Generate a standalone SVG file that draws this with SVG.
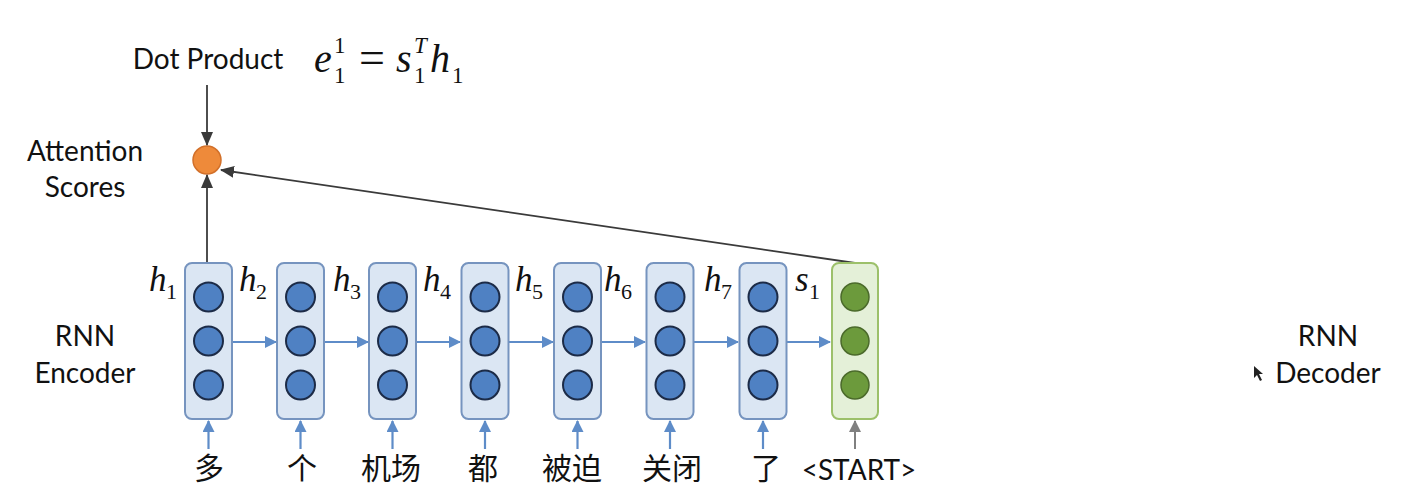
<svg xmlns="http://www.w3.org/2000/svg" width="1406" height="499" viewBox="0 0 1406 499">
<style>
.lbl{font-family:Lato,"Open Sans",sans-serif;font-size:28px;fill:#111;text-anchor:middle}
.zh{font-family:"Noto Sans CJK SC",sans-serif;font-size:30px;fill:#111;text-anchor:middle}
.mi{font-family:"Liberation Serif",serif;font-style:italic;font-size:35px;fill:#111}
.sub{font-family:"Liberation Serif",serif;font-size:22px;fill:#111}
.fm{font-family:"Liberation Serif",serif;font-style:italic;font-size:40px;fill:#111}
.fs{font-family:"Liberation Serif",serif;font-size:23px;fill:#111}
.box{fill:#dbe6f3;stroke:#7694bf;stroke-width:2}
.gbox{fill:#e4f0d8;stroke:#9cc06a;stroke-width:2}
.cell{fill:#4f81c3;stroke:#1c2b47;stroke-width:2}
.gcell{fill:#6c9a3c;stroke:#4b6a2b;stroke-width:1.5}
.blue{stroke:#5e8cc8;stroke-width:2.2;fill:none;marker-end:url(#ab)}
.gray{stroke:#808080;stroke-width:2;fill:none;marker-end:url(#ag)}
.dark{stroke:#3a3a3a;stroke-width:1.8;fill:none;marker-end:url(#ad)}
</style>
<defs>
<marker id="ab" markerUnits="userSpaceOnUse" markerWidth="12" markerHeight="12" refX="11" refY="6" orient="auto"><path d="M0,0 L12,6 L0,12 Z" fill="#5e8cc8"/></marker>
<marker id="ag" markerUnits="userSpaceOnUse" markerWidth="12" markerHeight="12" refX="11" refY="6" orient="auto"><path d="M0,0 L12,6 L0,12 Z" fill="#808080"/></marker>
<marker id="ad" markerUnits="userSpaceOnUse" markerWidth="14" markerHeight="12" refX="13" refY="6" orient="auto"><path d="M0,0 L14,6 L0,12 Z" fill="#3a3a3a"/></marker>
</defs>
<rect width="1406" height="499" fill="#ffffff"/>

<g id="labels">
<text class="lbl" x="208" y="69">Dot Product</text>
<text class="lbl" x="85" y="161">Attention</text>
<text class="lbl" x="85" y="197">Scores</text>
<text class="lbl" x="85" y="346">RNN</text>
<text class="lbl" x="85" y="383">Encoder</text>
<text class="lbl" x="1328" y="346">RNN</text>
<text class="lbl" x="1328" y="383">Decoder</text>
</g>

<g id="formula">
<text class="fm" x="314" y="72">e</text>
<text class="fs" x="334" y="53">1</text>
<text class="fs" x="334" y="83">1</text>
<text class="fs" x="359" y="73" style="font-size:46px">=</text>
<text class="fm" x="396" y="72">s</text>
<text class="fs" x="414" y="53" style="font-style:italic">T</text>
<text class="fs" x="414" y="83">1</text>
<text class="fm" x="430" y="72">h</text>
<text class="fs" x="452" y="83">1</text>
</g>

<g id="attention-score">
<circle cx="207" cy="160" r="14" fill="#ee8a3a" stroke="#d2702a" stroke-width="1.5"/>
</g>

<g id="connectors">
<line class="dark" x1="207" y1="85" x2="207" y2="145"/>
<line class="dark" x1="207" y1="263" x2="207" y2="175"/>
<line class="dark" x1="855" y1="263" x2="221" y2="170"/>
<line class="blue" x1="233" y1="342" x2="276" y2="342"/>
<line class="blue" x1="325" y1="342" x2="368" y2="342"/>
<line class="blue" x1="417" y1="342" x2="460" y2="342"/>
<line class="blue" x1="509" y1="342" x2="553" y2="342"/>
<line class="blue" x1="602" y1="342" x2="645" y2="342"/>
<line class="blue" x1="694" y1="342" x2="738" y2="342"/>
<line class="blue" x1="787" y1="342" x2="830" y2="342"/>
<line class="blue" x1="208.5" y1="449" x2="208.5" y2="421"/>
<line class="blue" x1="300.5" y1="449" x2="300.5" y2="421"/>
<line class="blue" x1="392.5" y1="449" x2="392.5" y2="421"/>
<line class="blue" x1="485" y1="449" x2="485" y2="421"/>
<line class="blue" x1="577.5" y1="449" x2="577.5" y2="421"/>
<line class="blue" x1="670" y1="449" x2="670" y2="421"/>
<line class="blue" x1="763" y1="449" x2="763" y2="421"/>
<line class="gray" x1="855" y1="449" x2="855" y2="421"/>
</g>

<g id="h1"><rect class="box" x="185" y="263" width="47" height="156" rx="7"/><circle class="cell" cx="208.5" cy="297" r="14.5"/><circle class="cell" cx="208.5" cy="341" r="14.5"/><circle class="cell" cx="208.5" cy="385" r="14.5"/></g>
<g id="h2"><rect class="box" x="277" y="263" width="47" height="156" rx="7"/><circle class="cell" cx="300.5" cy="297" r="14.5"/><circle class="cell" cx="300.5" cy="341" r="14.5"/><circle class="cell" cx="300.5" cy="385" r="14.5"/></g>
<g id="h3"><rect class="box" x="369" y="263" width="47" height="156" rx="7"/><circle class="cell" cx="392.5" cy="297" r="14.5"/><circle class="cell" cx="392.5" cy="341" r="14.5"/><circle class="cell" cx="392.5" cy="385" r="14.5"/></g>
<g id="h4"><rect class="box" x="461.5" y="263" width="47" height="156" rx="7"/><circle class="cell" cx="485" cy="297" r="14.5"/><circle class="cell" cx="485" cy="341" r="14.5"/><circle class="cell" cx="485" cy="385" r="14.5"/></g>
<g id="h5"><rect class="box" x="554" y="263" width="47" height="156" rx="7"/><circle class="cell" cx="577.5" cy="297" r="14.5"/><circle class="cell" cx="577.5" cy="341" r="14.5"/><circle class="cell" cx="577.5" cy="385" r="14.5"/></g>
<g id="h6"><rect class="box" x="646.5" y="263" width="47" height="156" rx="7"/><circle class="cell" cx="670" cy="297" r="14.5"/><circle class="cell" cx="670" cy="341" r="14.5"/><circle class="cell" cx="670" cy="385" r="14.5"/></g>
<g id="h7"><rect class="box" x="739.5" y="263" width="47" height="156" rx="7"/><circle class="cell" cx="763" cy="297" r="14.5"/><circle class="cell" cx="763" cy="341" r="14.5"/><circle class="cell" cx="763" cy="385" r="14.5"/></g>
<g id="s1"><rect class="gbox" x="832" y="263" width="46" height="156" rx="7"/><circle class="gcell" cx="855" cy="297" r="14"/><circle class="gcell" cx="855" cy="341" r="14"/><circle class="gcell" cx="855" cy="385" r="14"/></g>

<g id="state-labels">
<text class="mi" x="149" y="291">h</text><text class="sub" x="166" y="299">1</text>
<text class="mi" x="239" y="291">h</text><text class="sub" x="256" y="299">2</text>
<text class="mi" x="333" y="291">h</text><text class="sub" x="350" y="299">3</text>
<text class="mi" x="423" y="291">h</text><text class="sub" x="440" y="299">4</text>
<text class="mi" x="515" y="291">h</text><text class="sub" x="532" y="299">5</text>
<text class="mi" x="604" y="291">h</text><text class="sub" x="621" y="299">6</text>
<text class="mi" x="704" y="291">h</text><text class="sub" x="721" y="299">7</text>
<text class="mi" x="795" y="291">s</text><text class="sub" x="809" y="299">1</text>
</g>

<g id="inputs">
<text class="zh" x="209" y="479">多</text>
<text class="zh" x="302" y="479">个</text>
<text class="zh" x="391" y="479">机场</text>
<text class="zh" x="483" y="479">都</text>
<text class="zh" x="572" y="479">被迫</text>
<text class="zh" x="672" y="479">关闭</text>
<text class="zh" x="766" y="479">了</text>
<text class="lbl" x="859" y="480">&lt;START&gt;</text>
</g>

<path d="M1254,366 L1254,378 L1257,375 L1260,381 L1262,380 L1259,374 L1263,374 Z" fill="#222"/>
</svg>
